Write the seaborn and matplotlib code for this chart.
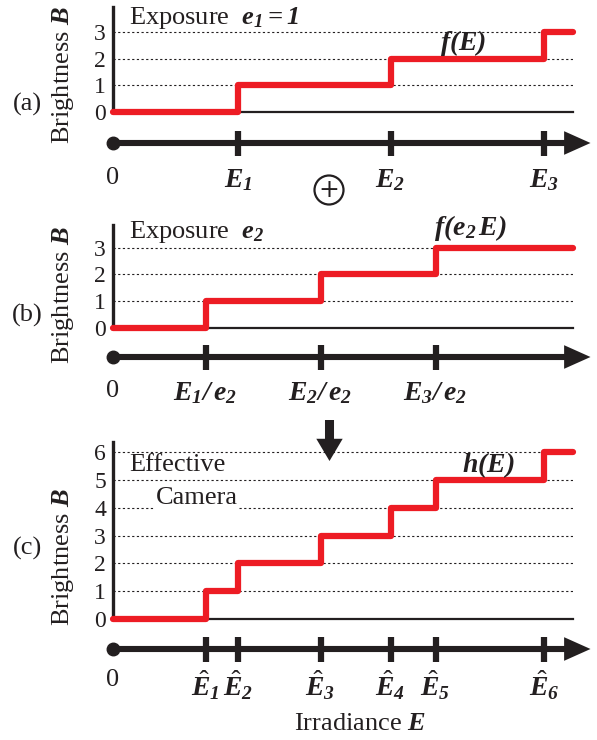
import numpy as np
import pandas as pd
import matplotlib
matplotlib.use("Agg")
import matplotlib.pyplot as plt
import seaborn as sns

# ---------------- data ----------------
# thresholds (irradiance, arbitrary units with E1 = 1)
E_a = [1.0, 2.22, 3.45]                      # E1, E2, E3
B_a = [0, 1, 2, 3, 3]
E_b = [0.74, 1.66, 2.58]                     # E1/e2, E2/e2, E3/e2
B_b = [0, 1, 2, 3, 3]
E_c = [0.74, 1.0, 1.66, 2.22, 2.58, 3.45]    # E^1 ... E^6
B_c = [0, 1, 2, 3, 4, 5, 6, 6]
E_end = 3.68
E_axis_end = 3.82

yt_a = [0, 1, 2, 3]
yt_b = [0, 1, 2, 3]
yt_c = [0, 1, 2, 3, 4, 5, 6]

lab_a = [r"$\mathbf{E_1}$", r"$\mathbf{E_2}$", r"$\mathbf{E_3}$"]
lab_b = [r"$\mathbf{E_1/\,e_2}$", r"$\mathbf{E_2/\,e_2}$", r"$\mathbf{E_3/\,e_2}$"]
lab_c = [r"$\hat{\mathbf{E}}_\mathbf{1}$", r"$\hat{\mathbf{E}}_\mathbf{2}$",
         r"$\hat{\mathbf{E}}_\mathbf{3}$", r"$\hat{\mathbf{E}}_\mathbf{4}$",
         r"$\hat{\mathbf{E}}_\mathbf{5}$", r"$\hat{\mathbf{E}}_\mathbf{6}$"]

# ---------------- style ----------------
sns.set_style("white")
plt.rcParams["font.family"] = ["Liberation Serif", "DejaVu Sans"]
plt.rcParams["mathtext.fontset"] = "custom"
plt.rcParams["mathtext.rm"] = "Liberation Serif"
plt.rcParams["mathtext.it"] = "Liberation Serif:italic"
plt.rcParams["mathtext.bf"] = "Liberation Serif:italic:bold"

RED = "#ED1C24"
K = "#231F20"
W, H = 597, 740
FS = 19

fig = plt.figure(figsize=(W / 100, H / 100), dpi=100)


def rect(l, t, r, b):
    return [l / W, 1 - b / H, (r - l) / W, (b - t) / H]


def step_panel(box, E, B, yticks, ymax):
    ax = fig.add_axes(rect(*box))
    df = pd.DataFrame({"E": [0.0] + E + [E_end], "B": B})
    sns.lineplot(data=df, x="E", y="B", ax=ax, drawstyle="steps-post",
                 color=RED, lw=4.5, clip_on=False, zorder=5)
    ax.set_xlim(0, E_end)
    ax.set_ylim(0, ymax)
    ax.set_yticks(yticks)
    ax.set_yticklabels([str(v) for v in yticks], fontsize=17, color=K)
    ax.set_xticks([])
    ax.set_xlabel("")
    ax.set_ylabel("")
    ax.tick_params(axis="y", length=0, pad=5)
    ax.grid(axis="y", color=K, lw=0.8, ls=(0, (2.0, 2.2)))
    ax.set_axisbelow(True)
    for s in ["top", "right"]:
        ax.spines[s].set_visible(False)
    ax.spines["left"].set_linewidth(2.4)
    ax.spines["left"].set_color(K)
    ax.spines["bottom"].set_linewidth(1.6)
    ax.spines["bottom"].set_color(K)
    ax.patch.set_alpha(0)
    return ax


def number_line(yc, ticks, labels, off):
    ax = fig.add_axes(rect(113, yc - 20, 113 + E_axis_end * 125, yc + 20))
    ax.axis("off")
    ax.set_xlim(0, E_axis_end)
    ax.set_ylim(-1, 1)
    ax.annotate("", xy=(E_axis_end, 0), xytext=(0, 0),
                arrowprops=dict(arrowstyle="simple,head_length=19,head_width=17,tail_width=4.4",
                                mutation_scale=1, fc=K, ec="none", lw=0,
                                shrinkA=0, shrinkB=0))
    ax.plot([0], [0], "o", ms=9, color=K, clip_on=False)
    ax.plot(ticks, [0] * len(ticks), ls="none", marker="|", ms=18, mew=4.5,
            color=K, clip_on=False)
    ax.annotate("0", xy=(0, 0), xytext=(0, -off), textcoords="offset pixels",
                ha="center", va="top", fontsize=FS, color=K)
    for t, l in zip(ticks, labels):
        ax.annotate(l, xy=(t, 0), xytext=(0, -off), textcoords="offset pixels",
                    ha="center", va="top", fontsize=20, color=K)
    return ax


# panel (a)
axa = step_panel((113, 7, 113 + E_end * 125, 112), E_a, B_a, yt_a, 105 / 26.7)
number_line(143, E_a, lab_a, 24)
# panel (b)
axb = step_panel((113, 225, 113 + E_end * 125, 328), E_b, B_b, yt_b, 103 / 26.8)
number_line(357, E_b, lab_b, 23)
# panel (c)
axc = step_panel((113, 442, 113 + E_end * 125, 619), E_c, B_c, yt_c, 177 / 27.8)
number_line(649, E_c, lab_c, 20)


def ftext(x, y, s, **kw):
    kw.setdefault("fontsize", FS)
    kw.setdefault("color", K)
    return fig.text(x / W, 1 - y / H, s, **kw)


# y labels and panel letters
for yc in (75, 295, 557):
    ftext(63, yc, r"Brightness $\mathbf{B}$", rotation=90, ha="center", va="center")
ftext(27, 104, "(a)", ha="center", va="center")
ftext(27, 315, "(b)", ha="center", va="center")
ftext(27, 548, "(c)", ha="center", va="center")

# in-panel labels
ftext(129, 18, r"Exposure  $\mathbf{e_1 = 1}$", ha="left", va="center")
ftext(129, 232, r"Exposure  $\mathbf{e_2}$", ha="left", va="center")
ftext(463, 43, r"$\mathbf{f(E)}$", ha="center", va="center", fontsize=20)
ftext(470, 228, r"$\mathbf{f(e_2\,E)}$", ha="center", va="center", fontsize=20)
ftext(488, 465, r"$\mathbf{h(E)}$", ha="center", va="center", fontsize=20)
ftext(129, 465, "Effective", ha="left", va="center")
ftext(156, 498, "Camera", ha="left", va="center",
      bbox=dict(facecolor="white", edgecolor="none", pad=0.5))
ftext(360, 724, r"Irradiance $\mathbf{E}$", ha="center", va="center")

# combine symbol (circled plus) and arrow
ftext(329, 190, "+", ha="center", va="center", fontsize=18,
      family="DejaVu Sans",
      bbox=dict(boxstyle="circle,pad=0.1", facecolor="white", edgecolor=K, lw=1.6))
fig.add_artist(matplotlib.patches.FancyArrowPatch(
    (329.5 / W, 1 - 420 / H), (329.5 / W, 1 - 461 / H), transform=fig.transFigure,
    arrowstyle="simple,head_length=16,head_width=19,tail_width=6.5",
    mutation_scale=1, fc=K, ec="none", lw=0, shrinkA=0, shrinkB=0))

fig.savefig("out.png", dpi=100)
